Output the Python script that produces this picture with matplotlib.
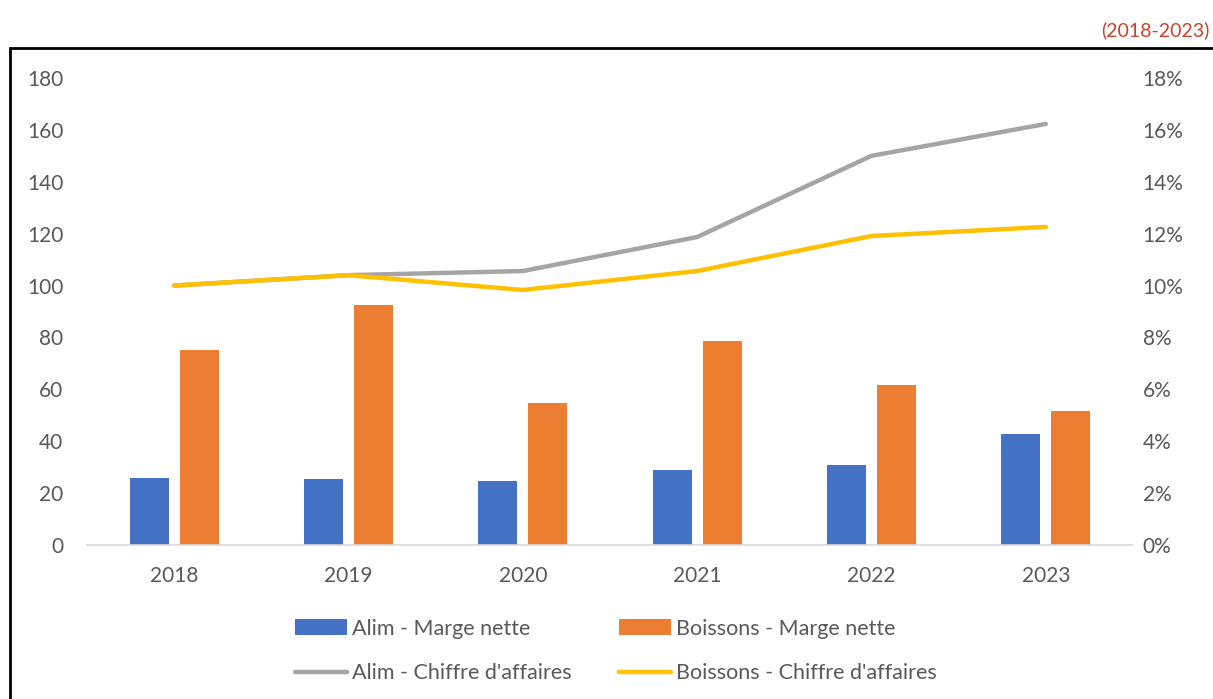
import matplotlib.pyplot as plt
import matplotlib.patches as mpatches
from matplotlib.ticker import FuncFormatter

# Data
years = ["2018", "2019", "2020", "2021", "2022", "2023"]
alim_marge = [2.58, 2.54, 2.47, 2.89, 3.08, 4.28]      # % (right axis)
boissons_marge = [7.52, 9.25, 5.47, 7.86, 6.17, 5.17]  # % (right axis)
alim_ca = [100, 104, 105.6, 118.7, 150, 162.3]          # index (left axis)
boissons_ca = [100, 104, 98.3, 105.6, 119.1, 122.6]     # index (left axis)

BLUE, ORANGE, GREY, YELLOW = "#4472C4", "#ED7D31", "#A5A5A5", "#FFC000"
TXT = "#595959"

plt.rcParams['font.family'] = ['Lato', 'DejaVu Sans']

fig = plt.figure(figsize=(12.13, 6.99), dpi=100)
ax = fig.add_axes([87 / 1213, 1 - 545 / 699, (1133 - 87) / 1213, (545 - 78) / 699])
ax2 = ax.twinx()

x = list(range(len(years)))
w = 0.224
off = 0.143
ax2.bar([i - off for i in x], alim_marge, width=w, color=BLUE, label="Alim - Marge nette")
ax2.bar([i + off for i in x], boissons_marge, width=w, color=ORANGE, label="Boissons - Marge nette")

ax.plot(x, alim_ca, color=GREY, lw=3.2, solid_capstyle="round", label="Alim - Chiffre d'affaires")
ax.plot(x, boissons_ca, color=YELLOW, lw=3.2, solid_capstyle="round", label="Boissons - Chiffre d'affaires")
ax.set_zorder(ax2.get_zorder() + 1)
ax.patch.set_visible(False)

ax.set_xlim(-0.5, len(years) - 0.5)
ax.set_ylim(0, 180)
ax2.set_ylim(0, 18)
ax.set_yticks(range(0, 181, 20))
ax2.set_yticks(range(0, 19, 2))
ax2.yaxis.set_major_formatter(FuncFormatter(lambda v, p: f"{v:.0f}%"))
ax.set_xticks(x)
ax.set_xticklabels(years)

for a in (ax, ax2):
    for s in a.spines.values():
        s.set_visible(False)
    a.tick_params(length=0, labelsize=15, labelcolor=TXT)
ax.spines["bottom"].set_visible(True)
ax.spines["bottom"].set_color("#D9D9D9")
ax.spines["bottom"].set_linewidth(1.2)
ax.tick_params(axis="y", pad=17)
ax.tick_params(axis="x", pad=15)
ax2.tick_params(axis="y", pad=7)

h1, l1 = ax2.get_legend_handles_labels()
h2, l2 = ax.get_legend_handles_labels()
handles = [h1[0], h2[0], h1[1], h2[1]]
labels = [l1[0], l2[0], l1[1], l2[1]]
leg = fig.legend(handles, labels, ncol=2, loc="center", bbox_to_anchor=(616 / 1213, 1 - 651 / 699),
                 frameon=False, fontsize=15.5, labelcolor=TXT, handlelength=2.4, handleheight=0.8,
                 handletextpad=0.25, columnspacing=2.2, labelspacing=1.15)

# outer frame (extends beyond the image on the right and bottom)
fig.patches.append(mpatches.Rectangle((10 / 1213, -0.1), 1.2, 1.1 - 48 / 699, transform=fig.transFigure,
                                      fill=False, edgecolor="black", lw=2, clip_on=False))

fig.text(1209 / 1213, 1 - 30 / 699, "(2018-2023)", color="#C8432B", fontsize=14, ha="right", va="center")

fig.savefig("out.png", dpi=100)
